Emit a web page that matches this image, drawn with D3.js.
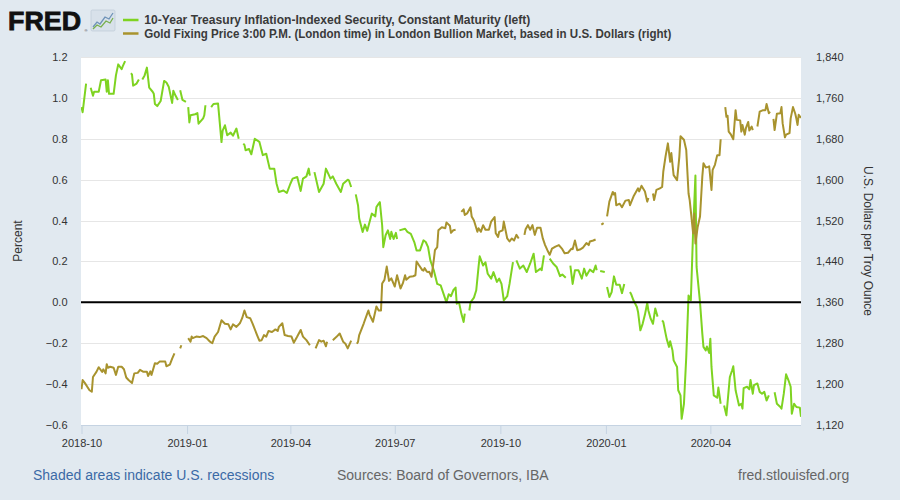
<!DOCTYPE html>
<html><head><meta charset="utf-8">
<script src="https://cdn.jsdelivr.net/npm/d3@7"></script>
<style>
html,body{margin:0;padding:0;background:#e1e9f0;}
svg{display:block;font-family:"Liberation Sans",Arial,sans-serif;}
</style></head>
<body><svg id="c" width="900" height="500"></svg>
<script>
// ---------- DATA ----------
const xTickLabels = ["2018-10","2019-01","2019-04","2019-07","2019-10","2020-01","2020-04"];
const leftTicks = [-0.6,-0.4,-0.2,0.0,0.2,0.4,0.6,0.8,1.0,1.2];
const rightTicks = [1120,1200,1280,1360,1440,1520,1600,1680,1760,1840];
const seriesNames = ["10-Year Treasury Inflation-Indexed Security, Constant Maturity (left)",
  "Gold Fixing Price 3:00 P.M. (London time) in London Bullion Market, based in U.S. Dollars (right)"];

const tipsDates = ["2018-10-01","2018-10-02","2018-10-05","2018-10-08","2018-10-09","2018-10-11","2018-10-12","2018-10-16","2018-10-18","2018-10-22","2018-10-23","2018-10-24","2018-10-25","2018-10-29","2018-10-31",
"2018-11-02","2018-11-05","2018-11-06","2018-11-08","2018-11-12","2018-11-13","2018-11-14","2018-11-15","2018-11-18","2018-11-20","2018-11-22","2018-11-23","2018-11-25","2018-11-27","2018-11-29",
"2018-12-02","2018-12-03","2018-12-04","2018-12-06","2018-12-09","2018-12-12","2018-12-14","2018-12-16","2018-12-19","2018-12-20","2018-12-22","2018-12-24","2018-12-25","2018-12-26","2018-12-28","2018-12-31","2019-01-01",
"2019-01-02","2019-01-03","2019-01-04","2019-01-08","2019-01-10","2019-01-11","2019-01-15","2019-01-16","2019-01-17","2019-01-20","2019-01-22","2019-01-24","2019-01-28","2019-01-31",
"2019-02-01","2019-02-03","2019-02-05","2019-02-08","2019-02-10","2019-02-13","2019-02-15","2019-02-17","2019-02-19","2019-02-20","2019-02-21","2019-02-24","2019-02-26",
"2019-03-01","2019-03-05","2019-03-08","2019-03-11","2019-03-14","2019-03-18","2019-03-20","2019-03-22","2019-03-26","2019-03-29","2019-04-01",
"2019-04-03","2019-04-07","2019-04-10","2019-04-12","2019-04-15","2019-04-17","2019-04-18","2019-04-19","2019-04-22","2019-04-26","2019-04-30",
"2019-05-02","2019-05-06","2019-05-08","2019-05-11","2019-05-15","2019-05-17","2019-05-21","2019-05-22","2019-05-24","2019-05-27","2019-05-28","2019-05-30","2019-05-31",
"2019-06-03","2019-06-05","2019-06-07","2019-06-11","2019-06-14","2019-06-15","2019-06-17","2019-06-18","2019-06-20","2019-06-21","2019-06-23","2019-06-25","2019-06-27","2019-06-28","2019-06-30",
"2019-07-02","2019-07-03","2019-07-04","2019-07-05","2019-07-10","2019-07-12","2019-07-15","2019-07-18","2019-07-20","2019-07-23","2019-07-26","2019-07-28","2019-07-30",
"2019-08-01","2019-08-04","2019-08-07","2019-08-10","2019-08-12","2019-08-15","2019-08-17","2019-08-19","2019-08-21","2019-08-23","2019-08-24","2019-08-26","2019-08-28","2019-08-30","2019-08-31","2019-09-02",
"2019-09-04","2019-09-05","2019-09-08","2019-09-10","2019-09-12","2019-09-13","2019-09-16","2019-09-18","2019-09-20","2019-09-23","2019-09-25","2019-09-28","2019-09-30",
"2019-10-02","2019-10-04","2019-10-07","2019-10-09","2019-10-12","2019-10-14","2019-10-15","2019-10-18","2019-10-21","2019-10-24","2019-10-27","2019-10-30",
"2019-11-01","2019-11-05","2019-11-06","2019-11-08","2019-11-11","2019-11-13","2019-11-16","2019-11-19","2019-11-22","2019-11-24","2019-11-27","2019-11-28",
"2019-12-01","2019-12-03","2019-12-05","2019-12-08","2019-12-11","2019-12-13","2019-12-15","2019-12-18","2019-12-21","2019-12-23","2019-12-24","2019-12-25","2019-12-27","2019-12-31","2020-01-01",
"2020-01-02","2020-01-04","2020-01-06","2020-01-08","2020-01-10","2020-01-13","2020-01-15","2020-01-17","2020-01-20","2020-01-22","2020-01-23","2020-01-25","2020-01-28","2020-01-29","2020-01-31",
"2020-02-02","2020-02-04","2020-02-06","2020-02-07","2020-02-09","2020-02-11","2020-02-13","2020-02-15","2020-02-17","2020-02-19","2020-02-20","2020-02-22","2020-02-23","2020-02-25","2020-02-26","2020-02-28","2020-02-29",
"2020-03-03","2020-03-04","2020-03-06","2020-03-07","2020-03-09","2020-03-11","2020-03-13","2020-03-15","2020-03-17","2020-03-19","2020-03-20","2020-03-23","2020-03-25","2020-03-26","2020-03-28","2020-03-29","2020-03-31",
"2020-04-01","2020-04-02","2020-04-04","2020-04-07","2020-04-08","2020-04-10","2020-04-11","2020-04-13","2020-04-15","2020-04-18","2020-04-20","2020-04-21","2020-04-23","2020-04-24","2020-04-26","2020-04-28","2020-04-29","2020-04-30",
"2020-05-03","2020-05-05","2020-05-06","2020-05-08","2020-05-09","2020-05-12","2020-05-14","2020-05-16","2020-05-18","2020-05-20","2020-05-22","2020-05-25","2020-05-27","2020-05-29",
"2020-06-01","2020-06-02","2020-06-04","2020-06-06","2020-06-08","2020-06-10","2020-06-11","2020-06-13","2020-06-15","2020-06-18","2020-06-19"];
const tipsValues = [0.955,0.93,1.07,null,1.05,1.01,1.03,1.03,1.086,1.09,1.03,1.086,1.02,1.02,1.11,
1.164,1.14,1.155,1.18,null,1.12,1.115,1.06,1.07,1.09,null,1.09,1.11,1.148,1.05,
1.03,1.02,0.97,0.96,0.985,1.083,1.075,1.055,0.975,1.035,1.01,0.99,null,1.037,0.99,0.98,null,
0.955,0.88,0.915,0.92,0.926,0.874,0.90,0.915,0.964,null,0.955,0.97,0.972,0.784,
0.84,0.866,0.817,0.83,0.815,0.85,0.80,null,0.776,0.77,0.744,0.75,0.724,
0.80,0.785,0.72,0.727,0.654,0.654,0.58,0.54,0.547,0.535,0.58,
0.605,0.613,0.545,0.605,0.616,0.654,0.62,null,0.637,0.54,0.58,
0.654,0.605,0.616,0.58,0.54,0.58,0.60,0.597,0.564,null,0.528,0.474,0.41,
0.344,0.38,0.35,0.434,0.42,0.466,0.483,0.49,0.377,0.27,0.328,0.352,0.31,0.345,0.31,
0.34,0.31,null,0.352,0.36,0.345,0.335,0.295,0.254,0.254,0.303,0.295,0.27,
0.205,0.157,0.09,0.083,0.05,0.0,0.04,0.03,0.059,0.072,-0.007,0.0,-0.055,-0.096,-0.055,null,
-0.04,0.0,0.023,0.059,0.173,0.225,0.18,0.196,0.14,0.116,0.148,0.10,0.116,
0.09,0.01,0.03,0.09,0.197,null,0.205,0.165,0.18,0.148,0.19,0.238,
0.148,0.165,0.157,0.23,null,0.214,0.19,0.173,0.128,0.136,0.12,null,
0.18,0.09,0.157,0.157,0.116,0.165,0.13,0.16,0.148,0.18,0.157,null,0.153,0.148,null,
0.075,0.026,0.05,0.127,0.086,0.086,0.045,0.09,null,0.05,0.04,0.01,-0.023,-0.047,-0.137,
-0.105,-0.06,-0.003,-0.04,-0.08,-0.105,-0.03,-0.07,null,-0.088,-0.096,-0.153,-0.18,-0.218,-0.19,-0.235,-0.284,
-0.316,-0.43,-0.455,-0.57,-0.496,-0.268,0.034,0.01,0.35,0.62,0.173,0.0,-0.153,-0.218,-0.235,-0.216,-0.248,
-0.178,-0.316,-0.455,-0.467,-0.417,-0.496,null,-0.505,-0.553,-0.365,-0.332,-0.313,-0.43,-0.455,-0.505,-0.496,-0.52,-0.42,
-0.413,-0.425,-0.38,-0.447,-0.405,-0.397,-0.438,-0.447,-0.438,-0.48,-0.455,null,-0.44,-0.496,
-0.512,-0.52,-0.447,-0.352,-0.38,-0.413,-0.545,-0.496,-0.512,-0.515,-0.56];

const goldDates = ["2018-10-01","2018-10-02","2018-10-04","2018-10-08","2018-10-10","2018-10-11","2018-10-14","2018-10-16","2018-10-19","2018-10-20","2018-10-22","2018-10-23","2018-10-24","2018-10-26","2018-10-29","2018-10-31",
"2018-11-02","2018-11-05","2018-11-07","2018-11-09","2018-11-11","2018-11-14","2018-11-16","2018-11-19","2018-11-21","2018-11-24","2018-11-27","2018-11-28","2018-11-30",
"2018-12-01","2018-12-04","2018-12-06","2018-12-08","2018-12-13","2018-12-14","2018-12-17","2018-12-19","2018-12-21","2018-12-24","2018-12-26","2018-12-27","2018-12-30",
"2019-01-02","2019-01-04","2019-01-05","2019-01-06","2019-01-09","2019-01-12","2019-01-15","2019-01-18","2019-01-21","2019-01-23","2019-01-25","2019-01-28","2019-01-31",
"2019-02-03","2019-02-06","2019-02-08","2019-02-10","2019-02-13","2019-02-16","2019-02-18","2019-02-20","2019-02-22","2019-02-25","2019-02-27",
"2019-03-03","2019-03-05","2019-03-07","2019-03-09","2019-03-11","2019-03-13","2019-03-16","2019-03-19","2019-03-21","2019-03-22","2019-03-25","2019-03-27","2019-03-30",
"2019-04-02","2019-04-04","2019-04-07","2019-04-10","2019-04-12","2019-04-15","2019-04-18","2019-04-20","2019-04-23","2019-04-26","2019-04-28","2019-04-30",
"2019-05-02","2019-05-03","2019-05-05","2019-05-08","2019-05-11","2019-05-14","2019-05-17","2019-05-19","2019-05-21","2019-05-24","2019-05-27","2019-05-29","2019-05-30","2019-05-31",
"2019-06-04","2019-06-07","2019-06-08","2019-06-09","2019-06-12","2019-06-15","2019-06-17","2019-06-19","2019-06-20","2019-06-22","2019-06-24","2019-06-26","2019-06-28",
"2019-07-01","2019-07-03","2019-07-06","2019-07-08","2019-07-10","2019-07-11","2019-07-14","2019-07-17","2019-07-19","2019-07-20","2019-07-22","2019-07-25","2019-07-26","2019-07-27","2019-07-29","2019-07-30","2019-07-31",
"2019-08-02","2019-08-04","2019-08-05","2019-08-07","2019-08-08","2019-08-11","2019-08-14","2019-08-15","2019-08-18","2019-08-19","2019-08-21","2019-08-23","2019-08-26","2019-08-28","2019-08-30","2019-08-31",
"2019-09-02","2019-09-05","2019-09-06","2019-09-08","2019-09-11","2019-09-12","2019-09-14","2019-09-16","2019-09-18","2019-09-21","2019-09-23","2019-09-26","2019-09-27","2019-09-29","2019-09-30",
"2019-10-03","2019-10-04","2019-10-07","2019-10-09","2019-10-11","2019-10-13","2019-10-15","2019-10-17","2019-10-19","2019-10-22","2019-10-23","2019-10-25","2019-10-27","2019-10-29","2019-10-31",
"2019-11-02","2019-11-05","2019-11-07","2019-11-09","2019-11-11","2019-11-13","2019-11-15","2019-11-18","2019-11-21","2019-11-24","2019-11-26","2019-11-29",
"2019-12-02","2019-12-03","2019-12-05","2019-12-07","2019-12-10","2019-12-12","2019-12-15","2019-12-17","2019-12-18","2019-12-21","2019-12-23","2019-12-25","2019-12-28","2019-12-30","2020-01-01",
"2020-01-02","2020-01-04","2020-01-07","2020-01-08","2020-01-09","2020-01-10","2020-01-13","2020-01-15","2020-01-18","2020-01-21","2020-01-22","2020-01-25","2020-01-29","2020-01-30",
"2020-02-01","2020-02-04","2020-02-06","2020-02-07","2020-02-09","2020-02-11","2020-02-12","2020-02-14","2020-02-17","2020-02-19","2020-02-20","2020-02-22","2020-02-24","2020-02-26","2020-02-27","2020-02-29",
"2020-03-03","2020-03-05","2020-03-06","2020-03-09","2020-03-11","2020-03-13","2020-03-14","2020-03-17","2020-03-18","2020-03-19","2020-03-21","2020-03-23","2020-03-25","2020-03-26","2020-03-28","2020-03-30","2020-03-31",
"2020-04-02","2020-04-03","2020-04-05","2020-04-07","2020-04-09","2020-04-10","2020-04-12","2020-04-14","2020-04-15","2020-04-16","2020-04-17","2020-04-19","2020-04-21","2020-04-23","2020-04-24","2020-04-27","2020-04-28","2020-04-29",
"2020-05-01","2020-05-02","2020-05-04","2020-05-05","2020-05-07","2020-05-08","2020-05-10","2020-05-12","2020-05-14","2020-05-17","2020-05-19","2020-05-20","2020-05-22","2020-05-23","2020-05-25","2020-05-26","2020-05-27","2020-05-29",
"2020-06-01","2020-06-02","2020-06-03","2020-06-05","2020-06-06","2020-06-09","2020-06-10","2020-06-12","2020-06-14","2020-06-15","2020-06-16","2020-06-17","2020-06-19"];
const goldValues = [1190,1208,1202,1188,1185,1214,1224,1233,1224,1229,1221,1239,1232,1234,1232,1218,
1234,1234,1229,1213,1208,1202,1221,1222,1228,1224,1224,1216,1225,
1218,1241,1240,1244,1244,1235,1238,1250,1260,null,1270,1276,null,
1290,1283,1293,1290,1293,1292,1294,1290,1283,1280,1293,1302,1325,
1318,1317,1307,1317,1312,1319,1329,1344,1331,1329,1319,
1296,1285,1286,1296,1293,1304,1302,1307,1304,1312,1319,1296,1294,
1293,1281,1293,1306,1293,1286,1276,null,1270,1286,1283,1285,
1274,1283,null,1286,1292,1299,1283,1279,1270,1285,null,1279,1283,1296,
1319,1338,1344,1336,1322,1352,1344,1344,1397,1404,1430,1402,1407,
1391,1413,1387,1397,1413,1404,1410,1411,1413,1440,1433,1423,1422,1427,1420,1419,1420,
1410,1443,1462,1468,1501,1507,1505,1516,1510,1496,1501,1502,null,1537,1542,1531,
1534,1546,1528,1520,1498,1505,1498,1511,1502,1502,1518,1527,1495,1488,1498,
1501,1518,1485,1479,1485,1481,1492,1485,null,1492,1503,1511,1502,1511,1492,
1506,1506,1485,1472,1462,1453,1465,1469,1472,1464,1456,1457,
1465,1464,1481,1462,1464,1467,1476,1472,1479,1481,1483,null,1512,1515,null,
1528,1557,1576,1571,1574,1550,1553,1546,1559,1560,1550,1567,1583,1577,
1588,1577,1557,1564,null,1573,1560,1580,1583,1586,1616,1646,1671,1635,1652,1609,
1599,1645,1685,1678,1658,1573,1560,1495,1534,1475,1508,1528,1606,1632,1624,1625,1626,
1580,1619,1629,1648,1648,1679,null,1742,1723,1725,1694,1688,1679,1736,1717,1716,1694,1707,
1688,1701,1713,1696,1704,1697,null,1704,1733,1736,1736,1748,1730,1733,null,1719,1697,1729,
1730,1742,1710,1683,1688,1691,1720,1742,1729,1719,1707,1727,1721];

// ---------- LAYOUT ----------
const colTips = "#7ed321", colGold = "#a8932e";
const svg = d3.select("#c");
const L = 81.5, R = 801, T = 57, B = 425;
const parse = d3.timeParse("%Y-%m-%d"), parseM = d3.timeParse("%Y-%m");
const x = d3.scaleTime().domain([parse("2018-10-01"), parse("2020-06-19")]).range([L, R]);
const yL = d3.scaleLinear().domain([-0.6, 1.2]).range([B, T]);
const yR = d3.scaleLinear().domain([1120, 1840]).range([B, T]);

svg.append("rect").attr("x", 81).attr("y", T).attr("width", R - 81).attr("height", B - T).attr("fill", "#fff");

// grid
svg.append("g").selectAll("line").data(leftTicks).join("line")
  .attr("x1", 81).attr("x2", R).attr("y1", d => Math.round(yL(d)) + 0.5).attr("y2", d => Math.round(yL(d)) + 0.5)
  .attr("stroke", "#e6e6e6").attr("stroke-width", 1);

// left axis labels
const axL = svg.append("g").attr("transform", `translate(${L - 14},0)`)
  .call(d3.axisLeft(yL).tickValues(leftTicks).tickFormat(d3.format(".1f")).tickSize(0).tickPadding(0));
axL.select(".domain").remove();
axL.selectAll("text").attr("font-size", 11).attr("fill", "#333").attr("font-family", "Liberation Sans, Arial, sans-serif");

// right axis labels
const axR = svg.append("g").attr("transform", `translate(${R + 15},0)`)
  .call(d3.axisRight(yR).tickValues(rightTicks).tickFormat(d3.format(",")).tickSize(0).tickPadding(0));
axR.select(".domain").remove();
axR.selectAll("text").attr("font-size", 11).attr("fill", "#333").attr("font-family", "Liberation Sans, Arial, sans-serif");

// x axis
const axX = svg.append("g").attr("transform", `translate(0,${B})`)
  .call(d3.axisBottom(x).tickValues(xTickLabels.map(parseM)).tickFormat(d3.timeFormat("%Y-%m")).tickSize(9).tickPadding(5));
axX.select(".domain").attr("stroke", "#c5d3e2").attr("d", `M81,0.5H${R}`);
axX.selectAll(".tick line").attr("stroke", "#c5d3e2");
axX.selectAll("text").attr("font-size", 11).attr("fill", "#333").attr("font-family", "Liberation Sans, Arial, sans-serif");

// axis titles
svg.append("text").attr("transform", "translate(22,241) rotate(-90)").attr("text-anchor", "middle")
  .attr("font-size", 12).attr("fill", "#333").text("Percent");
svg.append("text").attr("transform", "translate(864,241) rotate(90)").attr("text-anchor", "middle")
  .attr("font-size", 12).attr("fill", "#333").text("U.S. Dollars per Troy Ounce");

// series lines
const tipsData = tipsDates.map((d, i) => ({ date: parse(d), v: tipsValues[i] }));
const goldData = goldDates.map((d, i) => ({ date: parse(d), v: goldValues[i] }));
svg.append("clipPath").attr("id", "pc").append("rect").attr("x", 81).attr("y", T - 2).attr("width", R - 81).attr("height", B - T + 4);
const lg = svg.append("g").attr("clip-path", "url(#pc)");
lg.append("path").datum(tipsData)
  .attr("d", d3.line().defined(d => d.v !== null).x(d => x(d.date)).y(d => yL(d.v)))
  .attr("fill", "none").attr("stroke", colTips).attr("stroke-width", 2).attr("stroke-linejoin", "round");
lg.append("path").datum(goldData)
  .attr("d", d3.line().defined(d => d.v !== null).x(d => x(d.date)).y(d => yR(d.v)))
  .attr("fill", "none").attr("stroke", colGold).attr("stroke-width", 2).attr("stroke-linejoin", "round");

// zero line
svg.append("line").attr("x1", 81).attr("x2", R).attr("y1", yL(0)).attr("y2", yL(0))
  .attr("stroke", "#000").attr("stroke-width", 2);

// FRED logo
svg.append("text").attr("x", 8).attr("y", 30).attr("font-size", 25.5).attr("font-weight", 900)
  .attr("font-family", "Liberation Sans, Arial, sans-serif").attr("fill", "#111")
  .attr("stroke", "#111").attr("stroke-width", 0.8)
  .attr("textLength", 73).attr("lengthAdjust", "spacingAndGlyphs").text("FRED");
svg.append("text").attr("x", 84.5).attr("y", 31.5).attr("font-size", 4).attr("fill", "#333").text("®");
const icon = svg.append("g").attr("transform", "translate(91,10)");
icon.append("rect").attr("width", 24).attr("height", 21).attr("rx", 1.5).attr("fill", "#d8e1ea").attr("stroke", "#b8c6d4").attr("stroke-width", 0.6);
icon.append("polyline").attr("points", "2,17 6,12 9,14 14,7 18,9 22,3").attr("fill", "none").attr("stroke", "#6f93b8").attr("stroke-width", 1.3);
icon.append("polyline").attr("points", "2,19 6,15 10,17 15,11 19,13 22,8").attr("fill", "none").attr("stroke", "#78b04d").attr("stroke-width", 1.3);

// legend
const legendColors = [colTips, colGold];
const legendLens = [386, 527];
seriesNames.forEach((n, i) => {
  const yy = 20 + i * 13.5;
  svg.append("line").attr("x1", 123).attr("x2", 138.5).attr("y1", yy).attr("y2", yy)
    .attr("stroke", legendColors[i]).attr("stroke-width", 2.5);
  svg.append("text").attr("x", 144.3).attr("y", yy + 4.3).attr("font-size", 12).attr("font-weight", "bold").attr("fill", "#3a3a3a")
    .attr("textLength", legendLens[i]).attr("lengthAdjust", "spacingAndGlyphs").text(n);
});

// footer
svg.append("text").attr("x", 33).attr("y", 480).attr("font-size", 14).attr("fill", "#3b6aa6").text("Shaded areas indicate U.S. recessions");
svg.append("text").attr("x", 337).attr("y", 480).attr("font-size", 14).attr("fill", "#666").text("Sources: Board of Governors, IBA");
svg.append("text").attr("x", 738).attr("y", 480).attr("font-size", 14).attr("fill", "#666").text("fred.stlouisfed.org");
</script></body></html>
